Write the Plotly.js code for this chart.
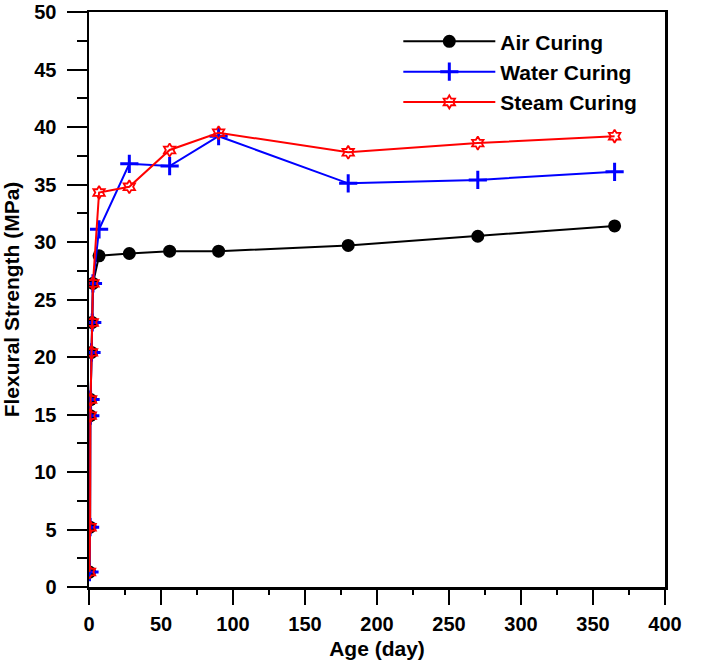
<!DOCTYPE html>
<html>
<head>
<meta charset="utf-8">
<script src="https://cdn.plot.ly/plotly-3.0.1.min.js"></script>
<style>
  html, body { margin: 0; padding: 0; background: #fff; }
  #chart { width: 720px; height: 660px; }
</style>
</head>
<body>
<div id="chart"></div>
<script>
// Age in days
var age = [0.33, 0.75, 0.9, 1.1, 1.75, 2.25, 2.75, 7, 28, 56, 90, 180, 270, 365];
// Flexural strength (MPa)
var airCuring   = [1.3, 5.2, 14.9, 16.3, 20.4, 23.0, 26.4, 28.8, 29.0, 29.2, 29.2, 29.7, 30.5, 31.4];
var waterCuring = [1.3, 5.2, 14.9, 16.3, 20.4, 23.0, 26.4, 31.1, 36.8, 36.6, 39.2, 35.1, 35.4, 36.1];
var steamCuring = [1.3, 5.2, 14.9, 16.3, 20.4, 23.0, 26.4, 34.3, 34.8, 38.0, 39.5, 37.8, 38.6, 39.2];
var seriesNames = ["Air Curing", "Water Curing", "Steam Curing"];
var xRange = [0, 400];
var yRange = [0, 50];

var FONT = "Liberation Sans, Arial, sans-serif";

var traces = [
  {
    x: age, y: airCuring, name: seriesNames[0], type: "scatter", mode: "lines+markers",
    legendgroup: "a",
    line: { color: "#000000", width: 2 },
    marker: { symbol: "circle", size: 13, color: "#000000" }
  },
  {
    x: age, y: waterCuring, name: seriesNames[1], type: "scatter", mode: "lines+markers",
    legendgroup: "b",
    line: { color: "#0000ff", width: 2 },
    marker: { symbol: "cross-thin", size: 13, color: "#0000ff", line: { color: "#0000ff", width: 3 } }
  },
  {
    x: age, y: steamCuring, name: seriesNames[2], type: "scatter", mode: "lines+markers",
    legendgroup: "c",
    line: { color: "#ff0000", width: 2 },
    marker: { symbol: "hexagram-open", size: 10, color: "#ff0000", line: { color: "#ff0000", width: 1.8 } }
  }
];

var layout = {
  width: 720, height: 660,
  margin: { l: 89, r: 55, t: 12, b: 73 },
  paper_bgcolor: "#ffffff", plot_bgcolor: "#ffffff",
  font: { family: FONT, color: "#000000" },
  showlegend: true,
  legend: {
    x: 0.537, y: 0.984, xanchor: "left", yanchor: "top",
    bgcolor: "rgba(0,0,0,0)",
    font: { family: FONT, size: 21, color: "#000000", weight: "bold" },
    itemwidth: 92,
    tracegroupgap: 0,
    traceorder: "normal"
  },
  xaxis: {
    range: xRange,
    tick0: 0, dtick: 50,
    ticks: "outside", ticklen: 15, tickwidth: 2, tickcolor: "#000",
    minor: { tick0: 0, dtick: 25, ticks: "outside", ticklen: 5, tickwidth: 2, tickcolor: "#000", showgrid: false },
    ticklabelstandoff: 2,
    showgrid: false, zeroline: false,
    showline: true, linecolor: "#000", linewidth: 2.5, mirror: true,
    tickfont: { family: FONT, size: 20, color: "#000", weight: "bold" },
    title: { text: "Age (day)", font: { family: FONT, size: 21, color: "#000", weight: "bold" }, standoff: 8 }
  },
  yaxis: {
    range: yRange,
    tick0: 0, dtick: 5,
    ticks: "outside", ticklen: 20, tickwidth: 2, tickcolor: "#000",
    minor: { tick0: 0, dtick: 2.5, ticks: "outside", ticklen: 10, tickwidth: 2, tickcolor: "#000", showgrid: false },
    ticklabelstandoff: 6,
    showgrid: false, zeroline: false,
    showline: true, linecolor: "#000", linewidth: 2.5, mirror: true,
    tickfont: { family: FONT, size: 20, color: "#000", weight: "bold" },
    title: { text: "Flexural Strength (MPa)", font: { family: FONT, size: 21, color: "#000", weight: "bold" }, standoff: 9 }
  }
};

Plotly.newPlot("chart", traces, layout, { displayModeBar: false, staticPlot: true });
</script>
</body>
</html>
